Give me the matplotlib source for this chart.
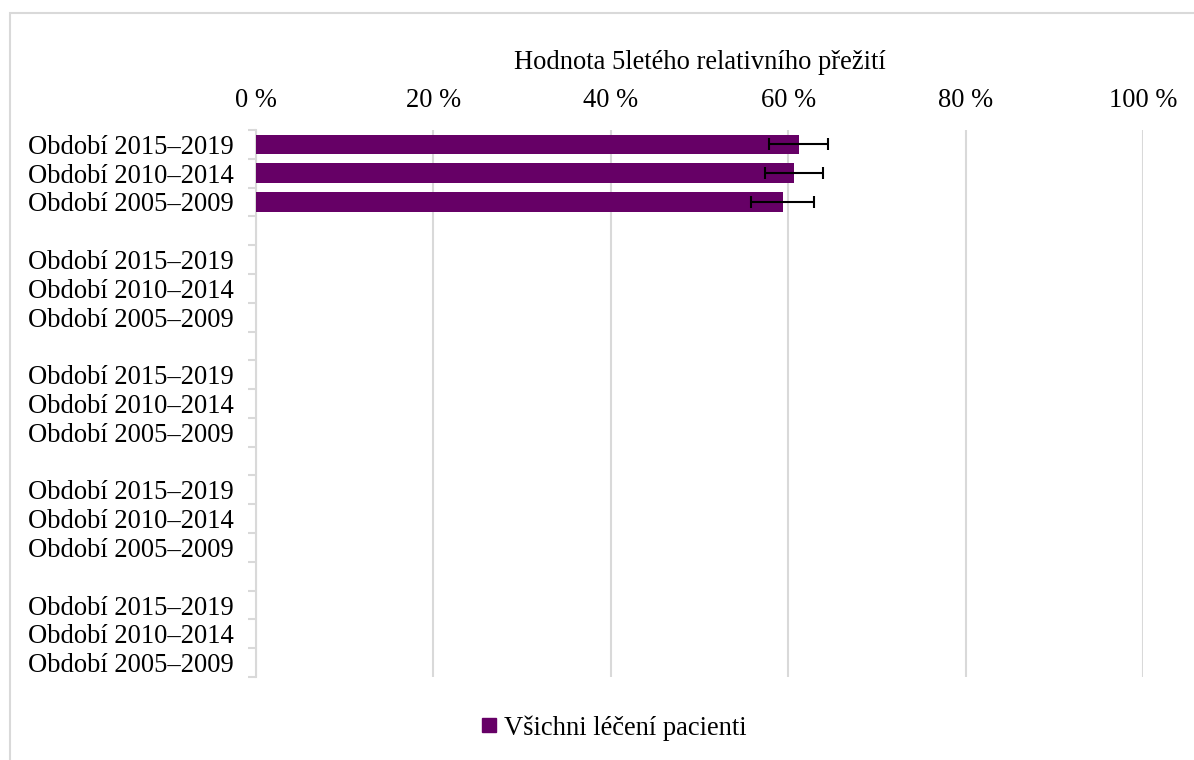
import matplotlib
matplotlib.use("Agg")
import matplotlib.pyplot as plt
from matplotlib.patches import Rectangle
from matplotlib.lines import Line2D
import numpy as np

plt.rcParams['font.family'] = ['Liberation Serif', 'DejaVu Serif']

# Category slots (top to bottom); empty strings are spacer slots between groups
period_labels = [
    "Období 2015–2019", "Období 2010–2014", "Období 2005–2009", "",
    "Období 2015–2019", "Období 2010–2014", "Období 2005–2009", "",
    "Období 2015–2019", "Období 2010–2014", "Období 2005–2009", "",
    "Období 2015–2019", "Období 2010–2014", "Období 2005–2009", "",
    "Období 2015–2019", "Období 2010–2014", "Období 2005–2009",
]

# 5-year relative survival (%) for all treated patients, with 95% CI bounds
survival = [61.2, 60.6, 59.4]
ci_low = [57.8, 57.4, 55.8]
ci_high = [64.5, 63.9, 62.9]
series_name = "Všichni léčení pacienti"

x_ticks = [0, 20, 40, 60, 80, 100]
x_title = "Hodnota 5letého relativního přežití"

bar_color = "#660066"
grid_color = "#d9d9d9"
fs = 19.1

W, H = 1194, 760
fig = plt.figure(figsize=(W / 100, H / 100), dpi=100)

# outer chart-area frame
fig.patches.append(Rectangle((9.5 / W, -0.1), 1.2, 1.1 - 12.5 / H,
                             transform=fig.transFigure, fill=False,
                             edgecolor=grid_color, linewidth=1.5))

ax = fig.add_axes([256 / W, 1 - 677 / H, (1143 - 256) / W, (677 - 130) / H])

n = len(period_labels)
ypos = np.arange(n)
nb = len(survival)
vals = np.array(survival)
err = np.array([vals - np.array(ci_low), np.array(ci_high) - vals])

ax.barh(ypos[:nb], vals, height=0.68, color=bar_color, zorder=3)
ax.errorbar(vals, ypos[:nb], xerr=err, fmt='none', ecolor='black',
            elinewidth=1.5, capsize=4.6, capthick=1.5, zorder=4)

ax.set_xlim(0, 100)
ax.set_ylim(n - 0.5, -0.5)

ax.xaxis.tick_top()
ax.xaxis.set_label_position('top')
ax.set_xticks(x_ticks)
ax.set_xticklabels([f"{v} %" for v in x_ticks], fontsize=fs)
ax.tick_params(axis='x', length=0, pad=12)
ax.set_xlabel(x_title, fontsize=fs, labelpad=14)
ax.xaxis.grid(True, color=grid_color, linewidth=1.5, zorder=0)

ax.set_yticks(ypos)
ax.set_yticklabels(period_labels, fontsize=fs)
ax.tick_params(axis='y', which='major', length=0, pad=16)
ax.set_yticks(np.arange(-0.5, n, 1.0), minor=True)
ax.tick_params(axis='y', which='minor', length=6, width=1.5, color=grid_color)

for side in ('top', 'right', 'bottom'):
    ax.spines[side].set_visible(False)
ax.spines['left'].set_color(grid_color)
ax.spines['left'].set_linewidth(1.5)

handle = Line2D([], [], marker='s', linestyle='none', markersize=10,
                markerfacecolor=bar_color, markeredgecolor=bar_color)
fig.legend([handle], [series_name], loc='center', bbox_to_anchor=(611 / W, 1 - 728 / H),
           frameon=False, fontsize=fs, handletextpad=0.05, handlelength=1.0)

fig.savefig("out.png", dpi=100, facecolor='white')
